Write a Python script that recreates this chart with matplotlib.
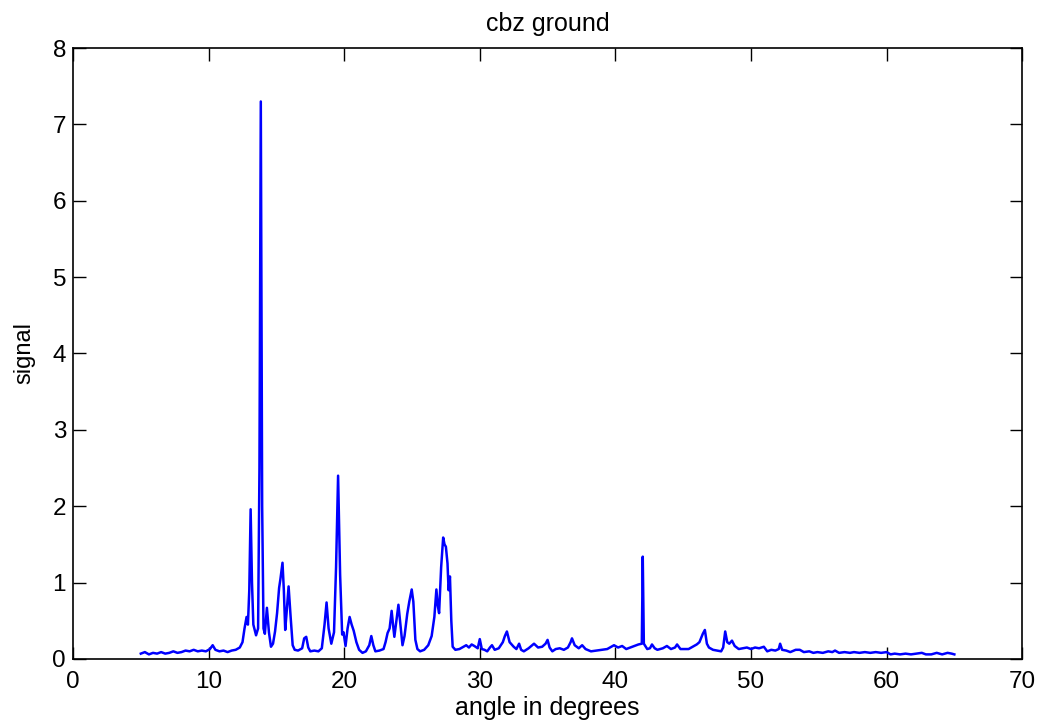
import matplotlib
matplotlib.use("Agg")
import matplotlib.pyplot as plt

plt.rcParams['font.family'] = ['Liberation Sans', 'DejaVu Sans']

# diffraction pattern
angle = [5.0, 5.3, 5.6, 5.9, 6.2, 6.5, 6.8, 7.1, 7.4, 7.7, 8.0, 8.3, 8.6, 8.9, 9.2, 9.5, 9.8,
         10.1, 10.3, 10.5, 10.8, 11.1, 11.4, 11.7, 12.0, 12.3, 12.5, 12.65, 12.8, 12.9, 13.0,
         13.1, 13.2, 13.3, 13.5, 13.65, 13.75, 13.85, 13.95, 14.05, 14.15, 14.3, 14.45, 14.6,
         14.75, 14.9, 15.05, 15.2, 15.3, 15.45, 15.55, 15.65, 15.75, 15.9, 16.05, 16.2, 16.35,
         16.6, 16.9, 17.05, 17.2, 17.35, 17.5, 17.8, 18.1, 18.35, 18.55, 18.7, 18.85, 19.05,
         19.25, 19.4, 19.55, 19.7, 19.85, 19.95, 20.1, 20.25, 20.4, 20.55, 20.7, 20.9, 21.1,
         21.35, 21.6, 21.85, 22.0, 22.15, 22.3, 22.6, 22.9, 23.05, 23.2, 23.35, 23.5, 23.6,
         23.7, 23.85, 24.0, 24.15, 24.3, 24.45, 24.65, 24.8, 24.98, 25.1, 25.25, 25.4, 25.6,
         25.9, 26.2, 26.45, 26.65, 26.8, 26.9, 27.0, 27.15, 27.3, 27.4, 27.5, 27.62, 27.7,
         27.8, 27.9, 28.0, 28.2, 28.5, 28.8, 29.0, 29.2, 29.4, 29.6, 29.85, 30.0, 30.15, 30.35,
         30.55, 30.75, 30.9, 31.1, 31.4, 31.7, 31.85, 32.0, 32.2, 32.5, 32.7, 32.9, 33.05,
         33.25, 33.6, 34.0, 34.3, 34.6, 34.85, 35.0, 35.15, 35.35, 35.6, 35.9, 36.2, 36.5,
         36.7, 36.8, 37.0, 37.3, 37.55, 37.8, 38.2, 38.6, 39.0, 39.4, 39.7, 39.9, 40.2, 40.5,
         40.8, 41.1, 41.4, 41.7, 41.95, 42.02, 42.1, 42.35, 42.55, 42.7, 42.9, 43.1, 43.5,
         43.8, 44.1, 44.4, 44.55, 44.8, 45.1, 45.4, 45.7, 46.0, 46.2, 46.45, 46.6, 46.75,
         46.9, 47.2, 47.5, 47.8, 47.95, 48.1, 48.25, 48.4, 48.6, 48.8, 49.1, 49.4, 49.7, 50.0,
         50.3, 50.6, 50.95, 51.2, 51.5, 51.8, 52.05, 52.15, 52.3, 52.6, 52.9, 53.3, 53.6, 53.9,
         54.3, 54.6, 54.9, 55.3, 55.7, 56.0, 56.2, 56.5, 56.9, 57.3, 57.6, 58.0, 58.4, 58.8,
         59.2, 59.6, 60.0, 60.3, 60.6, 61.0, 61.4, 61.8, 62.2, 62.6, 62.9, 63.3, 63.7, 64.1,
         64.5, 64.8, 65.0]
signal = [0.07, 0.09, 0.06, 0.08, 0.07, 0.09, 0.07, 0.08, 0.10, 0.08, 0.09, 0.11, 0.10, 0.12,
          0.10, 0.11, 0.10, 0.13, 0.18, 0.12, 0.10, 0.11, 0.09, 0.11, 0.12, 0.15, 0.22, 0.40,
          0.55, 0.45, 0.90, 1.96, 1.00, 0.45, 0.31, 0.40, 2.50, 7.30, 2.00, 0.40, 0.33, 0.67,
          0.35, 0.16, 0.20, 0.36, 0.60, 0.93, 1.05, 1.26, 0.90, 0.38, 0.60, 0.95, 0.55, 0.18,
          0.12, 0.11, 0.14, 0.27, 0.29, 0.15, 0.10, 0.11, 0.10, 0.14, 0.45, 0.74, 0.40, 0.20,
          0.35, 1.20, 2.40, 1.10, 0.32, 0.35, 0.17, 0.40, 0.55, 0.45, 0.37, 0.22, 0.12, 0.08,
          0.10, 0.18, 0.30, 0.18, 0.10, 0.11, 0.13, 0.22, 0.34, 0.40, 0.63, 0.45, 0.29, 0.50,
          0.71, 0.45, 0.18, 0.30, 0.59, 0.75, 0.91, 0.75, 0.25, 0.13, 0.10, 0.12, 0.18, 0.30,
          0.55, 0.91, 0.70, 0.60, 1.20, 1.59, 1.50, 1.47, 1.25, 0.90, 1.08, 0.50, 0.16, 0.12,
          0.13, 0.16, 0.18, 0.15, 0.19, 0.17, 0.14, 0.26, 0.13, 0.12, 0.10, 0.15, 0.18, 0.12,
          0.14, 0.22, 0.30, 0.36, 0.22, 0.16, 0.13, 0.20, 0.12, 0.10, 0.14, 0.20, 0.15, 0.16,
          0.20, 0.25, 0.15, 0.10, 0.13, 0.14, 0.12, 0.15, 0.22, 0.27, 0.18, 0.14, 0.18, 0.13,
          0.10, 0.11, 0.12, 0.13, 0.16, 0.18, 0.15, 0.17, 0.13, 0.15, 0.17, 0.19, 0.20, 1.34,
          0.20, 0.13, 0.14, 0.19, 0.14, 0.12, 0.14, 0.17, 0.13, 0.15, 0.19, 0.13, 0.13, 0.13,
          0.16, 0.19, 0.22, 0.33, 0.38, 0.20, 0.15, 0.12, 0.11, 0.10, 0.15, 0.36, 0.22, 0.20,
          0.24, 0.17, 0.13, 0.14, 0.15, 0.13, 0.15, 0.14, 0.16, 0.10, 0.12, 0.11, 0.13, 0.20,
          0.12, 0.11, 0.09, 0.12, 0.12, 0.09, 0.10, 0.08, 0.09, 0.08, 0.10, 0.09, 0.11, 0.08,
          0.09, 0.08, 0.09, 0.08, 0.09, 0.08, 0.09, 0.08, 0.09, 0.06, 0.07, 0.06, 0.07, 0.06,
          0.07, 0.08, 0.06, 0.06, 0.08, 0.06, 0.08, 0.07, 0.06]

fig = plt.figure(figsize=(10.43, 7.22), dpi=100)
ax = fig.add_axes([0.070, 0.0873, 0.910, 0.8462])

ax.plot(angle, signal, color='#0000ff', linewidth=1.8)

ax.set_xlim(0, 70)
ax.set_ylim(0, 8)
ax.set_xticks(range(0, 71, 10))
ax.set_yticks(range(0, 9))
ax.tick_params(direction='in', length=9, width=1, top=True, right=True, labelsize=17.5)
ax.tick_params(axis='x', pad=9)
ax.tick_params(axis='y', pad=5)
for s in ax.spines.values():
    s.set_linewidth(1.2)

ax.set_title('cbz ground', fontsize=18, pad=12)
ax.set_xlabel('angle in degrees', fontsize=18, labelpad=2)
ax.set_ylabel('signal', fontsize=17, labelpad=12)

fig.savefig('out.png', dpi=100)
